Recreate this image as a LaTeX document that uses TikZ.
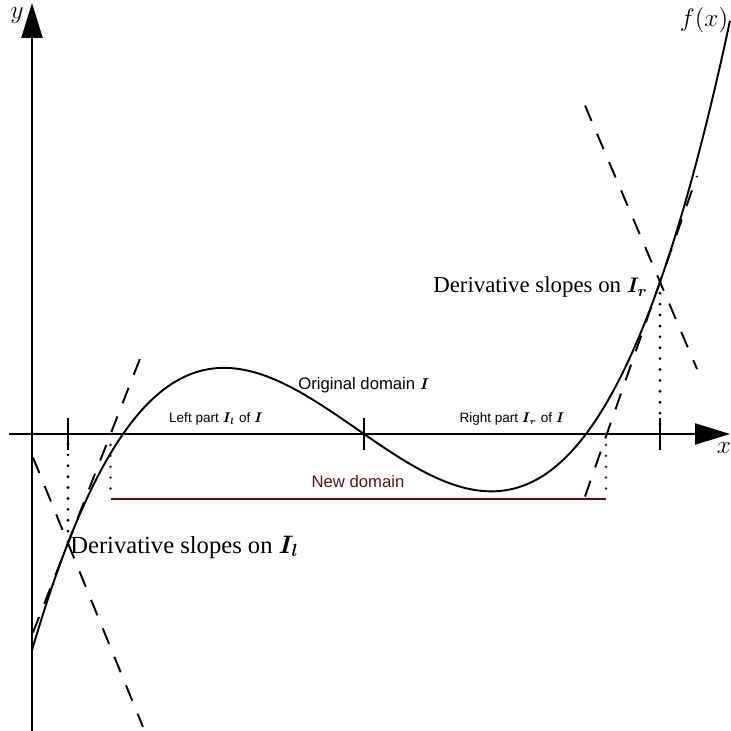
\documentclass[tikz,border=0pt]{standalone}
\usepackage{amsmath}
\usepackage[no-math]{fontspec}
\setmainfont{Liberation Serif}
\setsansfont{Liberation Sans}
\usetikzlibrary{arrows.meta}
\definecolor{INK}{HTML}{000000}
\definecolor{DOM}{HTML}{5E0F0F}

\begin{document}
\begin{tikzpicture}[
  declare function={f(\x)=0.0323*(\x-1.82)*(\x-6.64)*(\x-11.08);},
  axis/.style={draw=INK, line width=1.2pt, -{Triangle[length=0.7cm, width=0.42cm]}},
  tickmark/.style={draw=INK, line width=1.2pt},
  graph/.style={draw=INK, line width=1.1pt},
  slope/.style={draw=INK, line width=1.1pt, dash pattern=on 9.5pt off 8pt},
  drop/.style={draw=INK, line width=1.8pt, line cap=round, dash pattern=on 0pt off 6.2pt},
  domdrop/.style={drop, draw=DOM, line width=1.6pt},
  domline/.style={draw=DOM, line width=1.2pt},
  big/.style={inner sep=0pt, font=\fontsize{14}{16}\selectfont},
  mid/.style={inner sep=0pt, font=\sffamily\fontsize{9.5}{11}\selectfont},
  small/.style={inner sep=0pt, font=\sffamily\fontsize{7.7}{9}\selectfont},
]
\useasboundingbox (-0.64,-5.94) rectangle (13.96,8.68);

% axes
\draw[axis] (-0.46,0) -- (13.96,0);
\draw[axis] (0,-5.94) -- (0,8.62);
\node[big] (xlab) at (13.84,-0.28) {$x$};
\node[big] (ylab) at (-0.3,8.37) {$y$};

% interval ends and midpoint
\foreach \t/\n in {0.72/a, 6.64/m, 12.56/b}{
  \draw[tickmark] (\t,0.32) -- (\t,-0.32);
  \coordinate (\n) at (\t,0);
}

% the function
\draw[graph] plot[domain=0:13.96, samples=150] (\x,{f(\x)});
\node[big] (flab) at (13.44,8.28) {$f(x)$};

\coordinate (pl) at (0.72,{f(0.72)});
\coordinate (pr) at (12.56,{f(12.56)});

% slopes on the left part
\draw[slope] (0.02,-3.97) -- (2.22,1.66);
\draw[slope] (0.02,-0.47) -- (2.22,-5.86);
\draw[drop] (0.72,-0.2) -- (pl);
\node[big, anchor=base west] (dl) at (0.76,-2.38) {Derivative slopes on $\boldsymbol{I_l}$};

% slopes on the right part
\draw[slope] (11.06,-1.25) -- (13.3,5.16);
\draw[slope] (11.06,6.57) -- (13.3,1.3);
\draw[drop] (12.56,0.2) -- (pr);
\node[big, font=\fontsize{13}{15}\selectfont, anchor=base east] (dr) at (12.32,2.82) {Derivative slopes on $\boldsymbol{I_r}$};

% domains
\node[mid, anchor=base west] (orig) at (5.32,0.88) {Original domain $\boldsymbol{I}$};
\node[small, anchor=base] (left) at (3.68,0.22) {Left part $\boldsymbol{I_l}$ of $\boldsymbol{I}$};
\node[small, anchor=base] (right) at (9.6,0.22) {Right part $\boldsymbol{I_r}$ of $\boldsymbol{I}$};

\coordinate (nl) at (1.57,-1.3);
\coordinate (nr) at (11.48,-1.3);
\draw[domdrop] (1.57,0) -- (nl);
\draw[domdrop] (11.48,0) -- (nr);
\draw[domline] (nl) -- (nr);
\node[mid, text=DOM, anchor=base] (new) at (6.52,-1.08) {New domain};

\end{tikzpicture}
\end{document}
